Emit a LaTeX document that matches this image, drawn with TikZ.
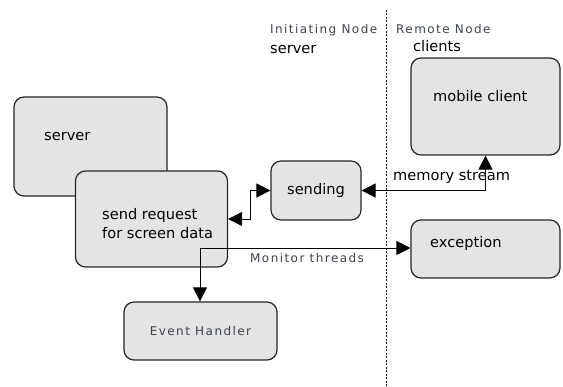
\documentclass[tikz,border=0pt]{standalone}
\usepackage{fontspec}
\setmainfont{DejaVu Sans}
\usetikzlibrary{arrows.meta}

\definecolor{boxgray}{HTML}{E4E4E4}
\definecolor{hintgray}{HTML}{3C4250}

\tikzset{
  tip/.style={-{Triangle[length=14pt,width=14pt]}},
  twotip/.style={{Triangle[length=14pt,width=14pt]}-{Triangle[length=14pt,width=14pt]}},
  lbl/.style={anchor=west, inner sep=0pt},
  hint/.style={lbl, text=hintgray, font=\fontsize{12}{14}\selectfont\addfontfeatures{LetterSpace=12}}
}

\begin{document}
\begin{tikzpicture}[x=1pt, y=-1pt, font=\fontsize{14.6}{18.5}\selectfont]
\useasboundingbox (0,0) rectangle (563,387);

% headings either side of the divider
\node[hint](ini) at (270,30) {Initiating Node};
\node[lbl](inisrv) at (270,50) {server};
\node[hint](rem) at (396,29) {Remote Node};
\node[lbl](remcli) at (413,46) {clients};

\draw[line width=0.8pt, dash pattern=on 2pt off 1.5pt] (386,10) -- (386,387);

  \begin{scope}[every node/.style={draw=black!85, line width=1.2pt, fill=boxgray, rounded corners=10pt, inner sep=0pt}]
\node[minimum width=153pt, minimum height=99pt](srv) at (90.5,146.5) {};
\node[minimum width=152pt, minimum height=96pt](sreq) at (151.5,219) {};
\node[minimum width=90pt, minimum height=59pt](snd) at (316,190.5) {sending};
\node[minimum width=149pt, minimum height=97pt](mob) at (485.5,106.5) {};
\node[minimum width=149pt, minimum height=58pt](exc) at (485.5,249) {};
\node[minimum width=153pt, minimum height=58pt, text=hintgray, font=\fontsize{12}{14}\selectfont\addfontfeatures{LetterSpace=12}](evh) at (200.5,331) {Event Handler};
\end{scope}

\node[lbl](srvtxt) at (44,137) {server};
\node[lbl, align=left](sreqtxt) at (102,223.5) {send request\\for screen data};
\node[lbl](mobtxt) at (433,96) {mobile client};
\node[lbl](exctxt) at (430,243) {exception};

\coordinate (mt) at (200,248);

\draw[twotip, line width=0.8pt] (sreq.east) -- ++(22,0) |- (snd.west);
\draw[twotip, line width=0.8pt] (snd.east) -| (mob.south);
\node[lbl](memtxt) at (393,177) {memory stream};
\draw[tip, line width=0.8pt] (mt) -- (mt -| exc.west);
\draw[tip, line width=0.8pt] (mt) -- (mt |- evh.north);
\node[hint](montxt) at (250,258) {Monitor threads};
\end{tikzpicture}
\end{document}
